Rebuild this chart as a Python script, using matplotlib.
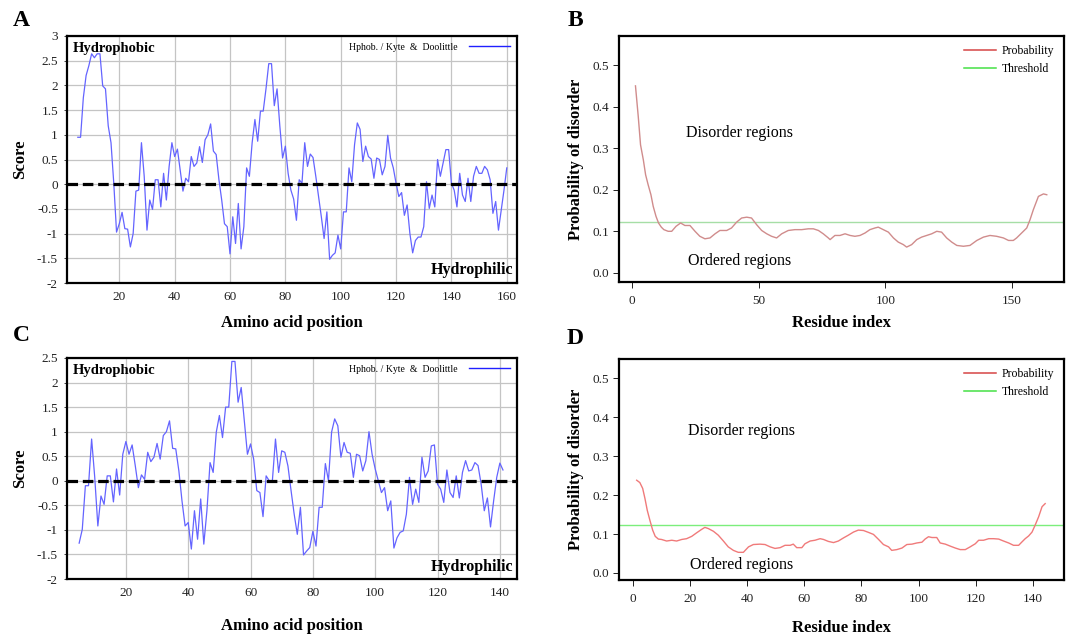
import matplotlib
matplotlib.use("Agg")
import matplotlib.pyplot as plt
from matplotlib.lines import Line2D

plt.rcParams['font.family'] = ['Liberation Serif', 'DejaVu Serif']

# ---------------- Data ----------------
# Panel A: Kyte & Doolittle hydropathy (positions 5..160)
posA = list(range(5, 161))
scoreA = [0.95, 0.95, 1.75, 2.2, 2.4, 2.64, 2.56, 2.64, 2.64, 1.99,
          1.93, 1.18, 0.84, 0.02, -0.97, -0.8, -0.57, -0.9, -0.91, -1.27,
          -1.0, -0.14, -0.12, 0.84, 0.16, -0.93, -0.32, -0.51, 0.09, 0.09,
          -0.46, 0.22, -0.32, 0.36, 0.84, 0.56, 0.71, 0.29, -0.14, 0.12,
          0.05, 0.56, 0.36, 0.43, 0.76, 0.44, 0.9, 1.0, 1.22, 0.67,
          0.6, 0.09, -0.32, -0.8, -0.86, -1.41, -0.66, -1.2, -0.39, -1.31,
          -0.86, 0.33, 0.16, 0.84, 1.31, 0.87, 1.48, 1.48, 1.93, 2.44,
          2.44, 1.59, 1.93, 1.18, 0.53, 0.77, 0.22, -0.12, -0.3, -0.73,
          0.09, 0.02, 0.84, 0.36, 0.61, 0.54, 0.16, -0.25, -0.66, -1.1,
          -0.56, -1.52, -1.44, -1.39, -1.03, -1.31, -0.56, -0.56, 0.33, 0.05,
          0.8, 1.24, 1.11, 0.46, 0.77, 0.56, 0.51, 0.12, 0.53, 0.5,
          0.19, 0.36, 0.99, 0.53, 0.33, 0.02, -0.25, -0.17, -0.63, -0.42,
          -1.0, -1.39, -1.14, -1.07, -1.07, -0.86, 0.05, -0.49, -0.22, -0.46,
          0.5, 0.16, 0.43, 0.7, 0.7, 0.02, -0.12, -0.46, 0.22, -0.22,
          -0.35, 0.12, -0.35, 0.16, 0.36, 0.22, 0.22, 0.36, 0.29, 0.09,
          -0.59, -0.35, -0.93, -0.52, -0.12, 0.33]

# Panel C: Kyte & Doolittle hydropathy (positions 5..141)
posC = list(range(5, 142))
scoreC = [-1.27, -0.99, -0.1, -0.1, 0.85, 0.07, -0.92, -0.31, -0.48, 0.1,
          0.1, -0.43, 0.24, -0.29, 0.54, 0.8, 0.54, 0.73, 0.31, -0.14,
          0.12, 0.03, 0.58, 0.39, 0.48, 0.76, 0.44, 0.92, 1.0, 1.22,
          0.66, 0.65, 0.2, -0.41, -0.92, -0.85, -1.39, -0.61, -1.19, -0.37,
          -1.29, -0.61, 0.37, 0.17, 0.99, 1.33, 0.88, 1.5, 1.5, 2.43,
          2.43, 1.6, 1.9, 1.22, 0.54, 0.75, 0.44, -0.2, -0.24, -0.73,
          0.1, 0.0, 0.0, 0.85, 0.17, 0.61, 0.58, 0.3, -0.2, -0.68,
          -1.09, -0.54, -1.51, -1.43, -1.36, -1.03, -1.33, -0.54, -0.54, 0.35,
          0.0, 0.99, 1.26, 1.12, 0.48, 0.78, 0.58, 0.56, 0.07, 0.54,
          0.51, 0.2, 0.41, 1.0, 0.54, 0.24, 0.0, -0.24, -0.14, -0.61,
          -0.41, -1.37, -1.16, -1.05, -1.02, -0.68, 0.07, -0.48, -0.17, -0.44,
          0.48, 0.07, 0.2, 0.71, 0.73, -0.07, -0.17, -0.44, 0.22, -0.24,
          -0.34, 0.1, -0.35, 0.17, 0.41, 0.2, 0.22, 0.37, 0.31, -0.07,
          -0.61, -0.35, -0.94, -0.41, 0.07, 0.36, 0.22]

# Panel B: disorder probability
resB = [1.4, 2.5, 3.4, 4.5, 5.4, 6.4, 7.5, 8.4, 9.5, 10.5, 11.6, 12.6, 14.3,
        15.7, 17.4, 19.2, 20.9, 22.9, 24.9, 26.8, 28.8, 30.8, 32.8, 34.7,
        37.4, 39.3, 41.3, 43.3, 45.3, 47.2, 49.2, 51.2, 53.2, 55.1, 57.1,
        59.1, 61.7, 64.3, 67.0, 69.6, 71.6, 73.6, 75.5, 77.5, 78.2, 80.1,
        82.1, 84.1, 86.1, 88.0, 90.0, 92.0, 93.9, 95.9, 97.2, 99.2, 101.2,
        103.2, 105.1, 107.1, 108.4, 110.4, 112.4, 114.3, 116.3, 118.3, 120.3,
        122.2, 124.2, 126.2, 128.2, 130.8, 133.4, 136.1, 138.7, 141.3, 143.9,
        146.6, 148.6, 150.5, 151.8, 153.8, 155.8, 157.1, 158.4, 160.4, 162.4,
        163.7]
probB = [0.45, 0.376, 0.308, 0.272, 0.236, 0.212, 0.188, 0.16, 0.136, 0.12,
         0.11, 0.104, 0.1, 0.1, 0.112, 0.12, 0.114, 0.114, 0.1, 0.088,
         0.082, 0.084, 0.094, 0.102, 0.102, 0.108, 0.122, 0.132, 0.134, 0.132,
         0.116, 0.102, 0.094, 0.088, 0.084, 0.094, 0.102, 0.104, 0.104, 0.106,
         0.106, 0.102, 0.094, 0.084, 0.08, 0.09, 0.09, 0.094, 0.09, 0.088,
         0.09, 0.096, 0.104, 0.108, 0.11, 0.104, 0.098, 0.084, 0.074, 0.068,
         0.062, 0.068, 0.08, 0.086, 0.09, 0.094, 0.1, 0.098, 0.084, 0.074,
         0.066, 0.064, 0.066, 0.078, 0.086, 0.09, 0.088, 0.084, 0.078, 0.078,
         0.084, 0.096, 0.108, 0.128, 0.152, 0.184, 0.19, 0.188]
thresholdB = 0.123

# Panel D: disorder probability
resD = [1.2, 2.3, 3.3, 4.1, 4.9, 5.8, 6.8, 7.7, 8.8, 9.9, 11.7, 13.5, 15.2,
        17.0, 18.7, 20.5, 22.2, 24.0, 25.1, 26.3, 28.1, 29.8, 31.6, 33.3,
        35.1, 36.8, 38.6, 40.4, 42.1, 44.4, 46.2, 48.0, 49.7, 51.5, 53.2,
        55.0, 56.1, 57.3, 59.1, 60.2, 62.0, 63.7, 65.5, 66.7, 68.4, 70.2,
        71.9, 73.7, 75.4, 77.2, 78.9, 80.7, 82.5, 84.2, 86.0, 87.7, 89.5,
        90.6, 92.4, 94.2, 95.9, 97.7, 99.4, 101.2, 102.3, 103.5, 104.7,
        106.4, 107.6, 109.4, 111.1, 112.9, 114.6, 116.4, 118.1, 119.9, 121.1,
        122.8, 124.6, 126.3, 128.1, 129.8, 131.6, 133.3, 135.1, 136.3, 137.4,
        138.6, 139.8, 140.9, 142.1, 143.3, 144.4]
probD = [0.238, 0.232, 0.217, 0.191, 0.161, 0.136, 0.11, 0.094, 0.087, 0.086,
         0.082, 0.084, 0.082, 0.086, 0.088, 0.094, 0.103, 0.112, 0.117, 0.114,
         0.107, 0.097, 0.082, 0.067, 0.058, 0.053, 0.053, 0.067, 0.073, 0.074,
         0.073, 0.067, 0.063, 0.065, 0.071, 0.071, 0.074, 0.065, 0.065, 0.075,
         0.082, 0.084, 0.088, 0.086, 0.081, 0.078, 0.082, 0.09, 0.097, 0.105,
         0.11, 0.109, 0.104, 0.099, 0.086, 0.073, 0.067, 0.058, 0.06, 0.064,
         0.073, 0.074, 0.077, 0.079, 0.087, 0.093, 0.091, 0.091, 0.077, 0.074,
         0.069, 0.064, 0.06, 0.06, 0.067, 0.075, 0.084, 0.084, 0.088, 0.088,
         0.087, 0.082, 0.077, 0.071, 0.071, 0.08, 0.088, 0.095, 0.105, 0.123,
         0.144, 0.17, 0.178]
thresholdD = 0.122

hyd_xticks_A = [20, 40, 60, 80, 100, 120, 140, 160]
hyd_xticks_C = [20, 40, 60, 80, 100, 120, 140]
hyd_yticks_A = [-2, -1.5, -1, -0.5, 0, 0.5, 1, 1.5, 2, 2.5, 3]
hyd_yticks_C = [-2, -1.5, -1, -0.5, 0, 0.5, 1, 1.5, 2, 2.5]
dis_yticks = [0.0, 0.1, 0.2, 0.3, 0.4, 0.5]
dis_xticks_B = [0, 50, 100, 150]
dis_xticks_D = [0, 20, 40, 60, 80, 100, 120, 140]

# ---------------- Figure ----------------
W, H = 1070, 636
fig = plt.figure(figsize=(W / 100, H / 100), dpi=100)


def rect(l, t, r, b):
    return [l / W, 1 - b / H, (r - l) / W, (b - t) / H]


def hydro_panel(ax, pos, score, xlim, yticks, xticks, xlabel_y):
    ax.plot(pos, score, color='#6464ff', lw=0.9, zorder=3)
    ax.axhline(0, color='black', lw=2.3, linestyle=(0, (3.3, 1.5)), zorder=4)
    ax.set_xlim(*xlim)
    ax.set_ylim(yticks[0], yticks[-1])
    ax.set_yticks(yticks)
    ax.set_yticklabels(['%g' % v for v in yticks])
    ax.set_xticks(xticks)
    ax.set_xticklabels([str(v) for v in xticks])
    ax.grid(True, color='#c4c4c4', lw=0.9)
    ax.set_axisbelow(True)
    for s in ax.spines.values():
        s.set_linewidth(1.6)
    ax.tick_params(axis='both', labelsize=9.5, length=2.5, width=0.6,
                   colors='#222222', pad=4)
    ax.tick_params(axis='x', length=0, pad=6)
    ax.set_ylabel('Score', fontsize=12, fontweight='bold')
    ax.yaxis.set_label_coords(-0.086, 0.5)
    ax.set_xlabel('Amino acid position', fontsize=12, fontweight='bold')
    ax.xaxis.set_label_coords(0.5, xlabel_y)
    ax.text(0.012, 0.975, 'Hydrophobic', transform=ax.transAxes,
            fontsize=10.5, fontweight='bold', va='top', ha='left')
    ax.text(0.992, 0.02, 'Hydrophilic', transform=ax.transAxes,
            fontsize=11.5, fontweight='bold', va='bottom', ha='right')
    h = Line2D([0], [0], color='#2020ff', lw=1.0)
    ax.legend([h], ['Hphob. / Kyte  &  Doolittle'], loc='upper right',
              frameon=False, fontsize=7, handlelength=4.2,
              markerfirst=False, borderaxespad=0.3, handletextpad=1.2)


def disorder_panel(ax, res, prob, thr, xlim, ylim, xticks, line_col,
                   thr_col, dis_pos, ord_pos, xlabel_y):
    ax.plot(res, prob, color=line_col, lw=1.0, zorder=3)
    ax.axhline(thr, color=thr_col, lw=1.0, zorder=2)
    ax.set_xlim(*xlim)
    ax.set_ylim(*ylim)
    ax.set_yticks(dis_yticks)
    ax.set_yticklabels(['%.1f' % v for v in dis_yticks])
    ax.set_xticks(xticks)
    ax.set_xticklabels([str(v) for v in xticks])
    for s in ax.spines.values():
        s.set_linewidth(1.6)
    ax.tick_params(axis='both', labelsize=9.5, length=4, width=0.7,
                   colors='#222222', pad=3)
    ax.tick_params(axis='x', pad=5)
    ax.set_ylabel('Probability of disorder', fontsize=12, fontweight='bold')
    ax.yaxis.set_label_coords(-0.078, 0.5)
    ax.set_xlabel('Residue index', fontsize=12, fontweight='bold')
    ax.xaxis.set_label_coords(0.5, xlabel_y)
    ax.text(dis_pos[0], dis_pos[1], 'Disorder regions', fontsize=11.5,
            ha='center', va='center')
    ax.text(ord_pos[0], ord_pos[1], 'Ordered regions', fontsize=11.5,
            ha='center', va='center')
    hp = Line2D([0], [0], color='#d64545', lw=1.1)
    ht = Line2D([0], [0], color='#45e045', lw=1.1)
    ax.legend([hp, ht], ['Probability', 'Threshold'], loc='upper right',
              frameon=False, fontsize=8.5, handlelength=2.7,
              borderaxespad=0.4, handletextpad=0.5, labelspacing=0.45)


axA = fig.add_axes(rect(67, 36, 517, 283))
hydro_panel(axA, posA, scoreA, (1.1, 163.7), hyd_yticks_A, hyd_xticks_A, -0.13)

axC = fig.add_axes(rect(67, 358, 517, 579))
hydro_panel(axC, posC, scoreC, (1.1, 145.5), hyd_yticks_C, hyd_xticks_C, -0.176)

axB = fig.add_axes(rect(619, 36, 1064, 282))
disorder_panel(axB, resB, probB, thresholdB, (-5.1, 170.5), (-0.022, 0.57),
               dis_xticks_B, '#d08c8c', '#a6dea6', (42.5, 0.336), (42.5, 0.029),
               -0.134)

axD = fig.add_axes(rect(619, 359, 1064, 580))
disorder_panel(axD, resD, probD, thresholdD, (-5.0, 151.0), (-0.018, 0.549),
               dis_xticks_D, '#f07a7a', '#7cee7c', (38, 0.363), (38, 0.02),
               -0.18)

for lbl, x, y in [('A', 21, 21), ('B', 575, 21), ('C', 21, 335), ('D', 575, 338)]:
    fig.text(x / W, 1 - y / H, lbl, fontsize=17, fontweight='bold',
             ha='center', va='center')

fig.savefig('out.png', dpi=100)
